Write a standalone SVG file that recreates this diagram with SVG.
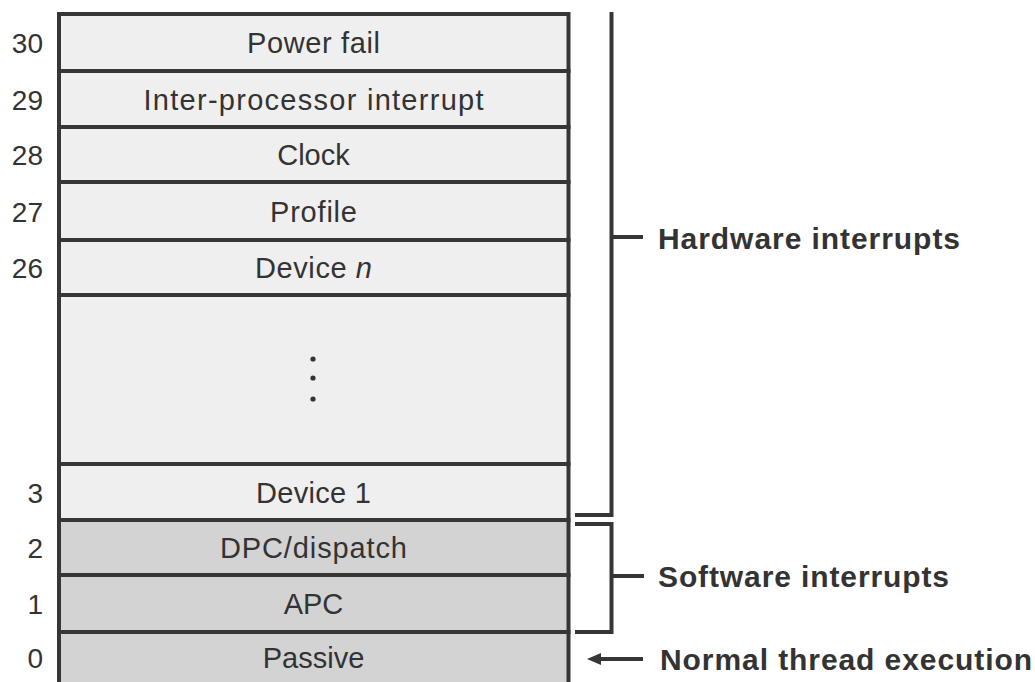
<svg xmlns="http://www.w3.org/2000/svg" width="1035" height="682" viewBox="0 0 1035 682">
<style>
.lt{fill:#efefef;stroke:#363636;stroke-width:4}
.dk{fill:#d3d3d3;stroke:#363636;stroke-width:4}
.lbl{font-family:"Liberation Sans",Arial,sans-serif;font-size:29px;fill:#333;text-anchor:middle}
.num{font-family:"Liberation Sans",Arial,sans-serif;font-size:28px;fill:#333;text-anchor:end}
.bold{font-family:"Liberation Sans",Arial,sans-serif;font-size:30px;font-weight:bold;fill:#333}
.ln{fill:none;stroke:#363636;stroke-width:4;stroke-linecap:butt;stroke-linejoin:miter}
</style>
<rect width="1035" height="682" fill="#fff"/>
<g id="level30"><rect class="lt" x="59" y="14" width="509.5" height="57"/><text class="num" x="43" y="53">30</text><text class="lbl" x="313.5" y="53" textLength="133" lengthAdjust="spacing">Power fail</text></g>
<g id="level29"><rect class="lt" x="59" y="71" width="509.5" height="56"/><text class="num" x="43" y="110">29</text><text class="lbl" x="313.5" y="110" textLength="340" lengthAdjust="spacing">Inter-processor interrupt</text></g>
<g id="level28"><rect class="lt" x="59" y="127" width="509.5" height="55"/><text class="num" x="43" y="165">28</text><text class="lbl" x="313.5" y="165">Clock</text></g>
<g id="level27"><rect class="lt" x="59" y="182" width="509.5" height="58"/><text class="num" x="43" y="222">27</text><text class="lbl" x="313.5" y="222" textLength="87" lengthAdjust="spacing">Profile</text></g>
<g id="level26"><rect class="lt" x="59" y="240" width="509.5" height="55"/><text class="num" x="43" y="278">26</text><text class="lbl" x="313.5" y="278" textLength="117" lengthAdjust="spacing">Device <tspan font-style="italic">n</tspan></text></g>
<g id="levels-gap"><rect class="lt" x="59" y="295" width="509.5" height="169"/><circle cx="313" cy="359" r="2.6" fill="#333"/><circle cx="313" cy="378" r="2.6" fill="#333"/><circle cx="313" cy="399" r="2.6" fill="#333"/></g>
<g id="level3"><rect class="lt" x="59" y="464" width="509.5" height="56"/><text class="num" x="43" y="503">3</text><text class="lbl" x="313.5" y="503" textLength="115" lengthAdjust="spacing">Device 1</text></g>
<g id="level2"><rect class="dk" x="59" y="520" width="509.5" height="55"/><text class="num" x="43" y="558">2</text><text class="lbl" x="313.5" y="558" textLength="187" lengthAdjust="spacing">DPC/dispatch</text></g>
<g id="level1"><rect class="dk" x="59" y="575" width="509.5" height="57"/><text class="num" x="43" y="614">1</text><text class="lbl" x="313.5" y="614">APC</text></g>
<g id="level0"><rect class="dk" x="59" y="632" width="509.5" height="70"/><text class="num" x="43" y="668">0</text><text class="lbl" x="313.5" y="668">Passive</text></g>
<g id="connectors">
<path class="ln" d="M611.5,12 V515 H575"/>
<path class="ln" d="M611.5,237 H643"/>
<path class="ln" d="M575,524 H611.5 V632 H575"/>
<path class="ln" d="M611.5,576 H644"/>
<path class="ln" d="M598,659 H643"/>
<polygon points="587,659 601,653 601,665" fill="#363636"/>
</g>
<g id="labels">
<text class="bold" x="658" y="249" textLength="302" lengthAdjust="spacing">Hardware interrupts</text>
<text class="bold" x="658" y="587" textLength="291" lengthAdjust="spacing">Software interrupts</text>
<text class="bold" x="660" y="670" textLength="372" lengthAdjust="spacing">Normal thread execution</text>
</g>
</svg>
